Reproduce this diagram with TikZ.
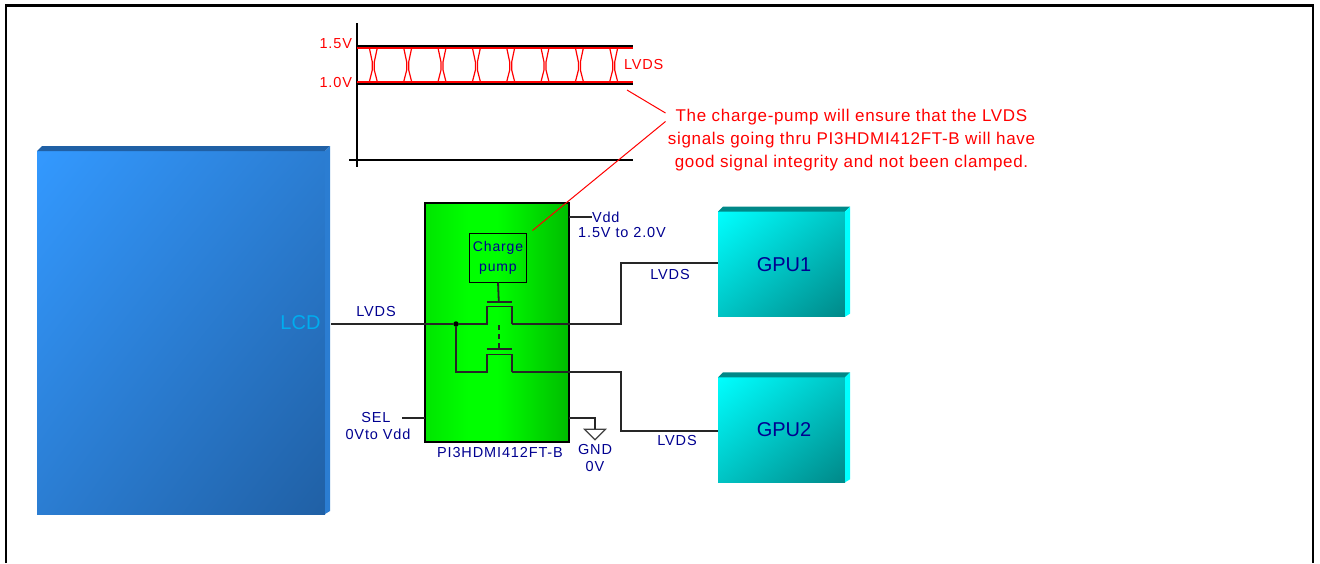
\documentclass[tikz,border=0pt]{standalone}
\usepackage{fontspec}
\setmainfont{Liberation Sans}
\newfontfamily\labelfont[LetterSpace=6]{Liberation Sans}
\newfontfamily\notefont[LetterSpace=4]{Liberation Sans}
\usepackage{xcolor}
\usetikzlibrary{positioning, calc, shapes.geometric, shadings}
\definecolor{labelblue}{HTML}{000090}
\definecolor{lcdlight}{HTML}{3399FF}
\definecolor{lcdmid}{HTML}{2B7DD2}
\definecolor{lcddark}{HTML}{2060A5}
\definecolor{gpulight}{HTML}{00FFFF}
\definecolor{gpumid}{HTML}{00C4C4}
\definecolor{gpudark}{HTML}{008888}
\pgfdeclarehorizontalshading{chipshade}{100bp}{rgb(0bp)=(0,.9,0); rgb(25bp)=(0,.9,0); rgb(40bp)=(0,1,0); rgb(50bp)=(0,1,0); rgb(75bp)=(0,.74,0); rgb(100bp)=(0,.74,0)}

\begin{document}
\begin{tikzpicture}[x=1pt, y=-1pt,
    every node/.style={inner sep=0pt, outer sep=0pt},
    wire/.style={draw=black!85, line width=1.8pt},
    axis/.style={draw=black, line width=2pt},
    redline/.style={draw=red, line width=1.5pt},
    small/.style={text=labelblue, font=\labelfont\fontsize{14.5}{16}\selectfont, align=center},
    redtext/.style={text=red, font=\labelfont\fontsize{14.5}{16}\selectfont},
    block/.style={font=\fontsize{20}{22}\selectfont},
    lcdblock/.style={block, minimum width=288pt, minimum height=363pt, upper left=lcdlight, upper right=lcdmid, lower left=lcdmid, lower right=lcddark},
    gpublock/.style={block, text=labelblue, minimum width=127pt, minimum height=105pt, upper left=gpulight, upper right=gpumid, lower left=gpumid, lower right=gpudark}]
    \useasboundingbox (0,0) rectangle (1320,563);
    \draw[line width=2.2pt] (6,563) -- (6,5.5) -- (1313,5.5) -- (1313,563);

    % Define blocks
    \node (lcd) [lcdblock] at (181,332.5) {};
    \node (gpu1) [gpublock] at (781.5,264.2) {\hspace*{5pt}GPU1};
    \node (gpu2) [gpublock, below=60.6pt of gpu1] {\hspace*{5pt}GPU2};
    \node (lcdname) [block, text=cyan, anchor=east] at (320.5,323) {LCD};
    \foreach \name/\topc/\sidec in {lcd/lcddark/lcdmid, gpu1/gpudark/gpulight, gpu2/gpudark/gpulight} {
        \fill[\topc] (\name.north west) -- ++(5,-5) -- ($(\name.north east)+(5,-5)$) -- (\name.north east) -- cycle;
        \fill[\sidec] (\name.north east) -- ++(5,-5) -- ($(\name.south east)+(5,-3)$) -- (\name.south east) -- cycle;
    }

    % Define switch
    \node (chip) [draw=black, line width=1.8pt, minimum width=144pt, minimum height=239pt, shading=chipshade] at (497,322.3) {};
    \node (pump) [draw=black, line width=1.8pt, minimum width=57pt, minimum height=49pt, small, font=\labelfont\fontsize{14}{20}\selectfont] at (498,258) {\raisebox{-2pt}{Charge}\\\raisebox{-2pt}{pump}};
    \node (chipname) [small] at (500,453) {PI3HDMI412FT-B};

    % Draw chart
    \coordinate (origin) at (357,160);
    \draw[axis] (357,23) -- (357,167);
    \draw[axis] (349,160) -- (633,160);
    \draw[axis] (357,46) -- (633,46);
    \draw[axis] (357,83.5) -- (633,83.5);
    \draw[redline] (357,47.8) -- (633,47.8);
    \draw[redline] (357,81.8) -- (633,81.8);
    \foreach \x in {373.3,407.7,442,476.4,510.7,545,579.4,613.7} {
        \draw[redline, line width=1.2pt] (\x-4,47.8) -- (\x-1,62) -- (\x-1,70) -- (\x-4,81.8);
        \draw[redline, line width=1.2pt] (\x+4,47.8) -- (\x+1,62) -- (\x+1,70) -- (\x+4,81.8);
    }
    \node (high) [redtext, anchor=east] at (352,43.5) {1.5V};
    \node (low) [redtext, anchor=east] at (352,83) {1.0V};
    \node (lvdsred) [redtext, anchor=west] at (624,65) {LVDS};

    % Add note
    \node (note) [redtext, align=center, font=\notefont\fontsize{17}{23}\selectfont] at (851.5,140) {The charge-pump will ensure that the LVDS\\signals going thru PI3HDMI412FT-B will have\\good signal integrity and not been clamped.};
    \coordinate (chartend) at (627,90);
    \coordinate (pumpend) at (532.5,230.5);
    \draw[redline, line width=1pt] (chartend) -- (665.5,113);
    \draw[redline, line width=1pt] (665.5,121.5) -- (pumpend);

    % Draw wires
    \coordinate (lcdport) at (331,324);
    \node (junction) [circle, fill=black, minimum size=5.5pt] at (456,324) {};
    \coordinate (qone) at (486.7,324);
    \coordinate (qoneout) at (511.7,324);
    \coordinate (qtwo) at (486.7,372);
    \coordinate (qtwoout) at (511.7,372);
    \draw[wire] (lcdport) -- (junction) -- (qone) -- ++(0,-17.5) -| (qoneout);
    \draw[wire] (qoneout) -- (621,324) |- ([yshift=1pt]gpu1.west);
    \draw[wire] (junction) |- (qtwo) -- ++(0,-17.5) -| (qtwoout);
    \draw[wire] (qtwoout) -- (621,372) |- ([yshift=-1.3pt]gpu2.west);
    \draw[wire] (pump.south) -- (498.8,301.7);
    \draw[wire] (486.7,301.7) -- (511.7,301.7);
    \draw[wire] (486.7,349.3) -- (511.7,349.3);
    \draw[wire, dash pattern=on 5pt off 4pt] (498.8,325) -- (498.8,349.3);

    % Draw pins
    \node (vdd) [small, anchor=west] at (592,217) {Vdd};
    \node (vddrange) [small] at (622,233) {1.5V to 2.0V};
    \draw[wire] (chip.east |- vdd) -- (vdd);
    \node (sel) [small] at (376,418) {SEL};
    \node (selrange) [small] at (378,434) {0Vto Vdd};
    \coordinate (selend) at (402,418);
    \draw[wire] (selend) -- (chip.west |- selend);
    \node (gnd) [draw=black!75, line width=1.2pt, fill=white, isosceles triangle, shape border rotate=-90, minimum width=21pt, minimum height=10pt, isosceles triangle apex angle=90] at (595,433.5) {};
    \draw[wire] (chip.east |- 0,418) -| (gnd.north);
    \node (gndname) [small] at (595,450) {GND};
    \node (gndvolt) [small] at (595,466) {0V};

    % Add data descriptions
    \node (lvdsin) [small] at (376,312) {LVDS};
    \node (lvdsone) [small] at (670,275) {LVDS};
    \node (lvdstwo) [small] at (677,440) {LVDS};
\end{tikzpicture}
\end{document}
